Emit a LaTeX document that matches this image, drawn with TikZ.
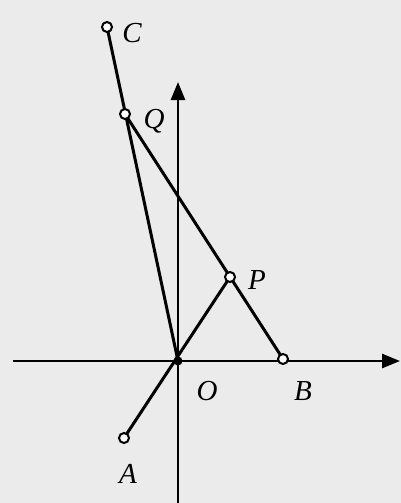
\documentclass[tikz,border=0pt]{standalone}
\usepackage{fontspec}
\setmainfont{Liberation Serif}
\usetikzlibrary{arrows.meta}
\begin{document}
\begin{tikzpicture}[x=1pt,y=-1pt,
  seg/.style={line width=3pt},
  axis/.style={line width=2.6pt,-{Triangle[length=18pt,width=14pt]}},
  pt/.style={circle,draw,line width=2pt,fill=white,inner sep=0pt,minimum size=10pt},
  opt/.style={circle,fill=black,inner sep=0pt,minimum size=9pt},
  lab/.style={font=\fontsize{29}{29}\selectfont\itshape,inner sep=0pt}]
\fill[black!8] (0,0) rectangle (401,503);
\useasboundingbox (0,0) rectangle (401,503);
% axis ends
\coordinate (xl) at (13,361);
\coordinate (xr) at (400,361);
\coordinate (yb) at (178,503);
\coordinate (yt) at (178,82);
\draw[axis] (xl) -- (xr);
\draw[axis] (yb) -- (yt);
% points
\coordinate (O) at (178,361);
\coordinate (C) at (107,27);
\coordinate (Q) at (125,114);
\coordinate (P) at (230,277);
\coordinate (B) at (283,359);
\coordinate (A) at (124,438);
\draw[seg] (C) -- (O);
\draw[seg] (Q) -- (B);
\draw[seg] (A) -- (P);
\node[opt] (Odot) at (O) {};
\node[pt] (Cn) at (C) {};
\node[pt] (Qn) at (Q) {};
\node[pt] (Pn) at (P) {};
\node[pt] (Bn) at (B) {};
\node[pt] (An) at (A) {};
% labels
\node[lab] (Cl) at (132,33) {C};
\node[lab] (Ql) at (154,121) {Q};
\node[lab] (Pl) at (257,280) {P};
\node[lab] (Ol) at (207,391) {O};
\node[lab] (Bl) at (303,391) {B};
\node[lab] (Al) at (128,474) {A};
\end{tikzpicture}
\end{document}
